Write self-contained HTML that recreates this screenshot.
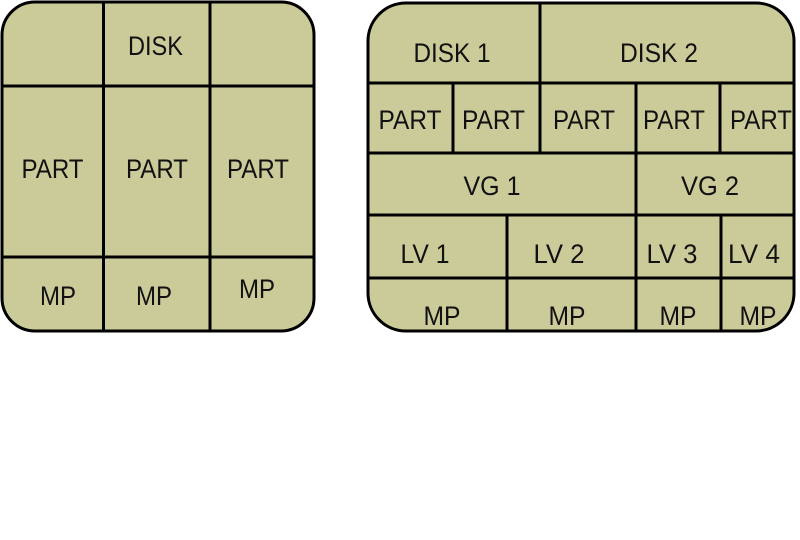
<!DOCTYPE html>
<html>
<head>
<meta charset="utf-8">
<style>
  html, body { margin: 0; padding: 0; background: #ffffff; }
  body { width: 800px; height: 540px; overflow: hidden; }
  svg { display: block; }
  text { font-family: "Liberation Sans", Arial, sans-serif; font-size: 26.5px; fill: #111111; text-anchor: middle; }
</style>
</head>
<body>
<svg width="800" height="540" viewBox="0 0 800 540" xmlns="http://www.w3.org/2000/svg">
  <defs>
    <clipPath id="cl">
      <rect x="2" y="2" width="312" height="329" rx="33" ry="33"/>
    </clipPath>
    <clipPath id="cr">
      <rect x="368" y="3" width="426" height="328" rx="38" ry="38"/>
    </clipPath>
  </defs>

  <!-- Left box -->
  <rect x="2" y="2" width="312" height="329" rx="33" ry="33" fill="#cbcb9a"/>
  <g clip-path="url(#cl)" stroke="#000" stroke-width="3" fill="none">
    <line x1="103.5" y1="0" x2="103.5" y2="340"/>
    <line x1="210" y1="0" x2="210" y2="340"/>
    <line x1="0" y1="86" x2="320" y2="86"/>
    <line x1="0" y1="257" x2="320" y2="257"/>
  </g>
  <rect x="2" y="2" width="312" height="329" rx="33" ry="33" fill="none" stroke="#000" stroke-width="3"/>

  <text x="155.5" y="55" textLength="55" lengthAdjust="spacingAndGlyphs">DISK</text>
  <text x="52.5" y="178" textLength="62" lengthAdjust="spacingAndGlyphs">PART</text>
  <text x="157" y="178" textLength="62" lengthAdjust="spacingAndGlyphs">PART</text>
  <text x="258" y="178" textLength="62" lengthAdjust="spacingAndGlyphs">PART</text>
  <text x="58" y="305" textLength="36" lengthAdjust="spacingAndGlyphs">MP</text>
  <text x="154" y="305" textLength="36" lengthAdjust="spacingAndGlyphs">MP</text>
  <text x="257" y="298" textLength="36" lengthAdjust="spacingAndGlyphs">MP</text>

  <!-- Right box -->
  <rect x="368" y="3" width="426" height="328" rx="38" ry="38" fill="#cbcb9a"/>
  <g clip-path="url(#cr)" stroke="#000" stroke-width="3" fill="none">
    <line x1="360" y1="83" x2="800" y2="83"/>
    <line x1="360" y1="153" x2="800" y2="153"/>
    <line x1="360" y1="215" x2="800" y2="215"/>
    <line x1="360" y1="278" x2="800" y2="278"/>
    <line x1="540" y1="0" x2="540" y2="153"/>
    <line x1="453" y1="83" x2="453" y2="153"/>
    <line x1="636" y1="83" x2="636" y2="340"/>
    <line x1="720" y1="83" x2="720" y2="153"/>
    <line x1="507" y1="215" x2="507" y2="340"/>
    <line x1="721" y1="215" x2="721" y2="340"/>
  </g>
  <rect x="368" y="3" width="426" height="328" rx="38" ry="38" fill="none" stroke="#000" stroke-width="3"/>

  <text x="452" y="62" textLength="77" lengthAdjust="spacingAndGlyphs">DISK 1</text>
  <text x="659" y="62" textLength="78" lengthAdjust="spacingAndGlyphs">DISK 2</text>

  <text x="410" y="129" textLength="63" lengthAdjust="spacingAndGlyphs">PART</text>
  <text x="493.5" y="129" textLength="63" lengthAdjust="spacingAndGlyphs">PART</text>
  <text x="584" y="129" textLength="62" lengthAdjust="spacingAndGlyphs">PART</text>
  <text x="674" y="129" textLength="62" lengthAdjust="spacingAndGlyphs">PART</text>
  <text x="761" y="129" textLength="62" lengthAdjust="spacingAndGlyphs">PART</text>

  <text x="492" y="195" textLength="57" lengthAdjust="spacingAndGlyphs">VG 1</text>
  <text x="710" y="195" textLength="58" lengthAdjust="spacingAndGlyphs">VG 2</text>

  <text x="425" y="263" textLength="49" lengthAdjust="spacingAndGlyphs">LV 1</text>
  <text x="559" y="263" textLength="51" lengthAdjust="spacingAndGlyphs">LV 2</text>
  <text x="672" y="263" textLength="51" lengthAdjust="spacingAndGlyphs">LV 3</text>
  <text x="754" y="263" textLength="52" lengthAdjust="spacingAndGlyphs">LV 4</text>

  <text x="442" y="325" textLength="37" lengthAdjust="spacingAndGlyphs">MP</text>
  <text x="567" y="325" textLength="37" lengthAdjust="spacingAndGlyphs">MP</text>
  <text x="678" y="325" textLength="37" lengthAdjust="spacingAndGlyphs">MP</text>
  <text x="758" y="325" textLength="37" lengthAdjust="spacingAndGlyphs">MP</text>
</svg>
</body>
</html>
